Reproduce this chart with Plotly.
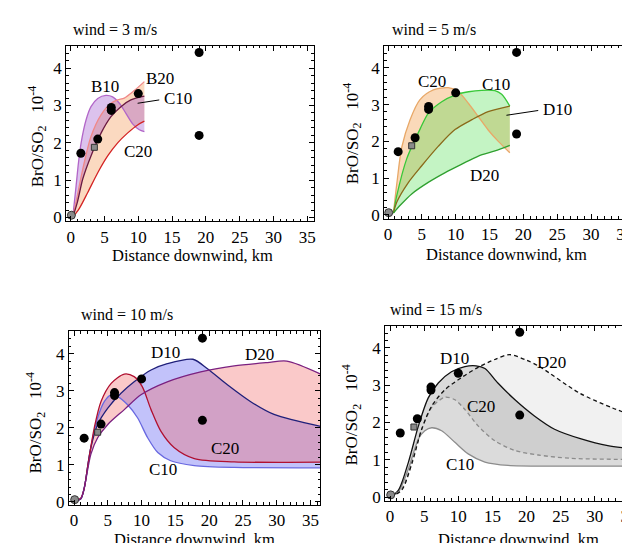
import plotly.graph_objects as go

# ---------------- data ----------------
# observations (common to all panels)
obs_x = [1.5, 4.0, 6.0, 6.0, 10.0, 19.0, 19.0]
obs_y = [1.72, 2.1, 2.95, 2.87, 3.32, 4.42, 2.2]
sq_x = [3.5]
sq_y = [1.88]
orig_x = [0.1]
orig_y = [0.06]

# panel 1: wind = 3 m/s
p1_b10_x = [0.3, 0.8, 1.15, 1.54, 2.28, 3.0, 4.0, 5.22, 6.2, 7.2, 8.17, 9.16, 10.15, 10.9]
p1_b10_y = [0.0, 0.85, 1.47, 2.0, 2.62, 2.97, 3.19, 3.27, 3.23, 3.06, 2.79, 2.51, 2.35, 2.3]
p1_b20_x = [0.3, 1.0, 1.78, 3.0, 4.49, 5.96, 6.95, 7.93, 9.4, 10.9]
p1_b20_y = [0.0, 0.6, 1.29, 2.17, 2.75, 3.06, 3.15, 3.2, 3.4, 3.64]
p1_c10_x = [0.3, 1.0, 1.78, 3.0, 4.49, 5.96, 7.43, 8.9, 10.9]
p1_c10_y = [0.0, 0.42, 1.03, 1.65, 2.26, 2.7, 2.97, 3.15, 3.25]
p1_c20_x = [0.3, 1.3, 2.52, 4.0, 5.47, 6.95, 8.4, 9.9, 10.9]
p1_c20_y = [0.0, 0.25, 0.67, 1.2, 1.65, 2.0, 2.26, 2.48, 2.58]

# panel 2: wind = 5 m/s
p2_c20_x = [0.8, 1.3, 2.03, 3.26, 4.7, 6.7, 8.9, 10.4, 11.9, 13.35, 14.8, 16.3, 18.0]
p2_c20_y = [0.05, 0.85, 1.84, 2.59, 3.13, 3.4, 3.46, 3.35, 3.03, 2.67, 2.31, 2.0, 1.69]
p2_c10_x = [0.8, 1.3, 2.77, 4.75, 5.97, 7.94, 9.9, 11.9, 13.85, 15.8, 16.8, 18.0]
p2_c10_y = [0.05, 0.53, 1.53, 2.34, 2.77, 3.08, 3.26, 3.35, 3.39, 3.38, 3.28, 2.96]
p2_d10_x = [0.8, 1.3, 3.0, 4.95, 7.45, 9.9, 12.4, 14.8, 18.0]
p2_d10_y = [0.05, 0.35, 0.88, 1.33, 1.87, 2.32, 2.59, 2.81, 2.96]
p2_d20_x = [0.8, 1.8, 3.5, 6.0, 8.45, 10.9, 13.35, 15.8, 18.0]
p2_d20_y = [0.05, 0.26, 0.57, 0.89, 1.15, 1.38, 1.6, 1.74, 1.89]

# panel 3: wind = 10 m/s
p3_c10_x = [0.1, 1.0, 1.5, 2.3, 3.5, 4.5, 5.47, 6.46, 7.93, 9.4, 10.9, 12.4, 14.3, 17.8, 23.7, 36.5]
p3_c10_y = [0.02, 0.08, 0.35, 1.29, 2.27, 2.71, 2.89, 2.84, 2.62, 2.27, 1.73, 1.33, 1.11, 0.98, 0.93, 0.92]
p3_d10_x = [0.1, 1.0, 1.54, 2.5, 3.5, 5.0, 6.95, 8.9, 11.4, 13.8, 17.6, 19.7, 22.7, 26.1, 29.6, 36.5]
p3_d10_y = [0.02, 0.08, 0.4, 1.47, 2.09, 2.53, 2.93, 3.24, 3.56, 3.73, 3.85, 3.6, 3.16, 2.71, 2.36, 2.04]
p3_c20_x = [0.1, 1.0, 1.5, 2.0, 3.0, 4.0, 5.5, 7.44, 8.9, 10.1, 11.4, 12.85, 14.8, 17.8, 23.7, 36.5]
p3_c20_y = [0.02, 0.1, 0.35, 0.93, 2.0, 2.71, 3.2, 3.45, 3.38, 3.11, 2.49, 1.91, 1.47, 1.17, 1.08, 1.07]
p3_d20_x = [0.1, 1.0, 1.54, 2.5, 3.5, 5.0, 7.44, 9.9, 13.8, 18.75, 23.7, 28.6, 31.5, 36.5]
p3_d20_y = [0.02, 0.08, 0.4, 1.29, 1.73, 2.09, 2.49, 2.89, 3.24, 3.51, 3.67, 3.76, 3.8, 3.45]

# panel 4: wind = 15 m/s
p4_c10_x = [0.0, 1.24, 2.7, 4.16, 5.1, 6.1, 7.56, 9.5, 11.45, 13.9, 17.3, 24.1, 36.5]
p4_c10_y = [0.0, 0.15, 0.76, 1.56, 1.78, 1.86, 1.78, 1.47, 1.16, 0.94, 0.85, 0.83, 0.83]
p4_d10_x = [0.0, 1.24, 2.7, 4.16, 5.6, 7.07, 9.0, 10.97, 12.6, 13.9, 15.8, 18.3, 21.2, 24.1, 28.0, 31.9, 36.5]
p4_d10_y = [0.0, 0.19, 0.94, 1.91, 2.66, 3.06, 3.36, 3.5, 3.52, 3.45, 3.06, 2.61, 2.17, 1.82, 1.56, 1.38, 1.28]
p4_c20_x = [0.0, 1.72, 3.2, 4.64, 6.1, 8.05, 9.5, 10.97, 12.9, 15.35, 18.3, 21.7, 26.5, 36.5]
p4_c20_y = [0.0, 0.23, 0.94, 1.82, 2.4, 2.68, 2.61, 2.35, 1.91, 1.51, 1.25, 1.13, 1.04, 1.01]
p4_d20_x = [0.0, 1.72, 3.2, 4.64, 6.1, 8.05, 10.5, 12.9, 15.35, 17.5, 20.0, 21.9, 27.75, 32.6, 36.5]
p4_d20_y = [0.0, 0.19, 0.9, 1.82, 2.44, 2.88, 3.21, 3.48, 3.69, 3.82, 3.67, 3.5, 2.79, 2.39, 2.13]

# curve labels: (text, x, y)
p1_labels = [("B10", 5.0, 3.52), ("B20", 13.2, 3.73), ("C10", 13.5, 3.18), ("C20", 9.9, 1.76)]
p2_labels = [("C20", 6.5, 3.62), ("C10", 16.0, 3.56), ("D10", 22.6, 2.86), ("D20", 14.3, 1.06)]
p3_labels = [("D10", 13.5, 4.03), ("D20", 27.5, 3.97), ("C20", 22.4, 1.45), ("C10", 13.1, 0.86)]
p4_labels = [("D10", 9.5, 3.72), ("D20", 23.6, 3.6), ("C20", 13.3, 2.42), ("C10", 10.2, 0.87)]
titles = ["wind = 3 m/s", "wind = 5 m/s", "wind = 10 m/s", "wind = 15 m/s"]

# ---------------- figure ----------------
W, H = 630, 543
FONT = "Liberation Serif, Times New Roman, Times, serif"
fig = go.Figure()

def band(lower_x, lower_y, upper_x, upper_y, color, ax):
    xa, ya = ax
    fig.add_trace(go.Scatter(x=lower_x, y=lower_y, mode="lines", line=dict(width=0, shape="spline", smoothing=0.8),
                             hoverinfo="skip", showlegend=False, xaxis=xa, yaxis=ya))
    fig.add_trace(go.Scatter(x=upper_x, y=upper_y, mode="lines", line=dict(width=0, shape="spline", smoothing=0.8),
                             fill="tonexty", fillcolor=color, hoverinfo="skip", showlegend=False, xaxis=xa, yaxis=ya))

def curve(x, y, color, ax, width=1.3, dash="solid"):
    xa, ya = ax
    fig.add_trace(go.Scatter(x=x, y=y, mode="lines", line=dict(color=color, width=width, dash=dash, shape="spline", smoothing=0.8),
                             hoverinfo="skip", showlegend=False, xaxis=xa, yaxis=ya))

def markers(ax):
    xa, ya = ax
    fig.add_trace(go.Scatter(x=orig_x, y=orig_y, mode="markers",
                             marker=dict(symbol="circle", size=8, color="#8a8a8a", line=dict(color="#333", width=1)),
                             showlegend=False, xaxis=xa, yaxis=ya))
    fig.add_trace(go.Scatter(x=sq_x, y=sq_y, mode="markers",
                             marker=dict(symbol="square", size=6, color="#8a8a8a", line=dict(color="#333", width=1)),
                             showlegend=False, xaxis=xa, yaxis=ya))
    fig.add_trace(go.Scatter(x=obs_x, y=obs_y, mode="markers",
                             marker=dict(symbol="circle", size=9, color="black"),
                             showlegend=False, xaxis=xa, yaxis=ya))

A1, A2, A3, A4 = ("x", "y"), ("x2", "y2"), ("x3", "y3"), ("x4", "y4")

# panel 1
band(p1_c20_x, p1_c20_y, p1_b20_x, p1_b20_y, "rgba(245,150,80,0.36)", A1)
band(p1_c10_x, p1_c10_y, p1_b10_x, p1_b10_y, "rgba(150,70,200,0.33)", A1)
curve(p1_b10_x, p1_b10_y, "#b266c8", A1)
curve(p1_b20_x, p1_b20_y, "#f08888", A1)
curve(p1_c10_x, p1_c10_y, "#6a1a40", A1)
curve(p1_c20_x, p1_c20_y, "#d42424", A1)
markers(A1)

# panel 2
band(p2_d10_x, p2_d10_y, p2_c20_x, p2_c20_y, "rgba(240,150,60,0.36)", A2)
band(p2_d20_x, p2_d20_y, p2_c10_x, p2_c10_y, "rgba(60,220,60,0.30)", A2)
curve(p2_c20_x, p2_c20_y, "#e8a868", A2)
curve(p2_c10_x, p2_c10_y, "#38c838", A2)
curve(p2_d10_x, p2_d10_y, "#8a6a1a", A2)
curve(p2_d20_x, p2_d20_y, "#30a030", A2)
markers(A2)

# panel 3
band(p3_c10_x, p3_c10_y, p3_d10_x, p3_d10_y, "rgba(80,80,240,0.35)", A3)
band(p3_c20_x, p3_c20_y, p3_d20_x, p3_d20_y, "rgba(240,100,100,0.35)", A3)
curve(p3_c10_x, p3_c10_y, "#6868e0", A3)
curve(p3_d10_x, p3_d10_y, "#20207a", A3)
curve(p3_c20_x, p3_c20_y, "#b01030", A3)
curve(p3_d20_x, p3_d20_y, "#7a2080", A3)
markers(A3)

# panel 4
band(p4_c10_x, p4_c10_y, p4_d10_x, p4_d10_y, "rgba(0,0,0,0.14)", A4)
band(p4_c20_x, p4_c20_y, p4_d20_x, p4_d20_y, "rgba(0,0,0,0.055)", A4)
curve(p4_c10_x, p4_c10_y, "#8c8c8c", A4)
curve(p4_d10_x, p4_d10_y, "#111111", A4)
curve(p4_c20_x, p4_c20_y, "#8c8c8c", A4, dash="4px,3px")
curve(p4_d20_x, p4_d20_y, "#111111", A4, dash="4px,3px")
markers(A4)

# ---------------- axes ----------------
def px_dom_x(a, b):
    return [a / W, b / W]

def px_dom_y(top, bottom):
    return [1 - bottom / H, 1 - top / H]

tickfont = dict(family=FONT, size=17, color="black")

def xaxis(dom, rng, anchor):
    return dict(domain=dom, range=rng, anchor=anchor, showline=True, linecolor="black", linewidth=1,
                mirror="ticks", ticks="inside", ticklen=5, tickcolor="black", dtick=5, tick0=0,
                minor=dict(ticks="inside", ticklen=2.5, dtick=1, tickcolor="black"),
                showgrid=False, zeroline=False, tickfont=tickfont)

def yaxis(dom, rng, anchor, mirror="ticks"):
    return dict(domain=dom, range=rng, anchor=anchor, showline=True, linecolor="black", linewidth=1,
                mirror=mirror, ticks="inside", ticklen=5, tickcolor="black", dtick=1, tick0=0,
                minor=dict(ticks="inside", ticklen=2.5, dtick=0.2, tickcolor="black"),
                showgrid=False, zeroline=False, tickfont=tickfont)

layout = dict(
    width=W, height=H, margin=dict(l=0, r=0, t=0, b=0),
    paper_bgcolor="white", plot_bgcolor="white", showlegend=False,
    font=dict(family=FONT, size=16, color="black"),
    xaxis=xaxis(px_dom_x(58.3, 306.7), [-0.68, 35.96], "y"),
    yaxis=yaxis(px_dom_y(38.3, 216), [-0.1, 4.6], "x"),
    xaxis2=xaxis(px_dom_x(377.3, 628.3), [-0.58, 36.4], "y2"),
    yaxis2=yaxis(px_dom_y(38.3, 213.3), [-0.1, 4.6], "x2"),
    xaxis3=xaxis(px_dom_x(61, 313.3), [-0.77, 36.45], "y3"),
    yaxis3=yaxis(px_dom_y(327.7, 503.3), [-0.08, 4.6], "x3"),
    xaxis4=xaxis(px_dom_x(378.3, 630), [-0.72, 36.03], "y4"),
    yaxis4=yaxis(px_dom_y(321.7, 499.3), [-0.1, 4.6], "x4", mirror=False),
)
fig.update_layout(**layout)

# ---------------- annotations ----------------
ann = []
lab_font = dict(family=FONT, size=17, color="black")
for labels, xr, yr in [(p1_labels, "x", "y"), (p2_labels, "x2", "y2"), (p3_labels, "x3", "y3"), (p4_labels, "x4", "y4")]:
    for t, x, y in labels:
        xanchor = "center"
        if (xr == "x" and t == "C10") or (xr == "x2" and t == "D10"):
            xanchor = "left"
        ann.append(dict(text=t, x=x, y=y, xref=xr, yref=yr, showarrow=False, font=lab_font, xanchor=xanchor))

# leader lines
fig.add_shape(type="line", x0=9.9, y0=3.06, x1=13.1, y1=3.15, xref="x", yref="y", line=dict(color="black", width=1))
fig.add_shape(type="line", x0=17.5, y0=2.71, x1=22.2, y1=2.84, xref="x2", yref="y2", line=dict(color="black", width=1))

title_font = dict(family=FONT, size=16, color="black")
for t, (x, y) in zip(titles, [(63, 21.7), (383, 21.7), (71.7, 310), (381.7, 305)]):
    ann.append(dict(text=t, x=x / W, y=1 - y / H, xref="paper", yref="paper", showarrow=False,
                    font=title_font, xanchor="left", yanchor="middle"))

axis_font = dict(family=FONT, size=16.5, color="black")
for (x, y) in [(185, 251), (500, 250), (187, 538), (512, 538)]:
    ann.append(dict(text="Distance downwind, km", x=x / W, y=1 - y / H, xref="paper", yref="paper",
                    showarrow=False, font=axis_font, xanchor="center", yanchor="middle"))
for (x, y) in [(29, 130), (345, 127), (28, 420), (345, 412)]:
    ann.append(dict(text="BrO/SO<sub>2</sub>   10<sup>-4</sup>", x=x / W, y=1 - y / H, xref="paper", yref="paper",
                    showarrow=False, font=dict(family=FONT, size=17, color="black"), textangle=-90,
                    xanchor="center", yanchor="middle"))

fig.update_layout(annotations=ann)
fig.write_html("out.html")
